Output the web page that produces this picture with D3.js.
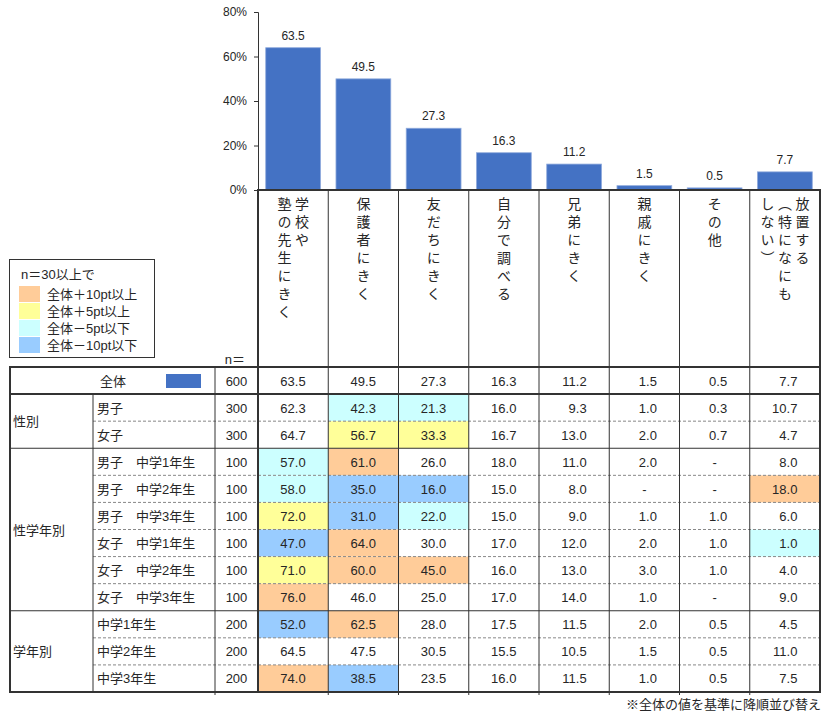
<!DOCTYPE html>
<html>
<head>
<meta charset="utf-8">
<script src="https://cdn.jsdelivr.net/npm/d3@7"></script>
<style>
  body { margin: 0; background: #fff; }
  svg text { font-family: "Liberation Sans", "Noto Sans CJK JP", sans-serif; fill: #262626; }
</style>
</head>
<body>
<svg id="chart" width="827" height="715"></svg>
<script>
// categories (vertical header text, columns read right to left)
var categories = ["学校や塾の先生にきく", "保護者にきく", "友だちにきく", "自分で調べる",
                  "兄弟にきく", "親戚にきく", "その他", "放置する（特になにもしない）"];
var headerLines = [
  ["学校や", "塾の先生にきく"],
  ["保護者にきく"],
  ["友だちにきく"],
  ["自分で調べる"],
  ["兄弟にきく"],
  ["親戚にきく"],
  ["その他"],
  ["放置する", "（特になにも", "しない）"]
];
var totalValues = [63.5, 49.5, 27.3, 16.3, 11.2, 1.5, 0.5, 7.7];
var totalN = 600;

var groupNames = ["性別", "性学年別", "学年別"];
var groupSizes = [2, 6, 3];
var rowLabels = ["男子", "女子",
  "男子　中学1年生", "男子　中学2年生", "男子　中学3年生",
  "女子　中学1年生", "女子　中学2年生", "女子　中学3年生",
  "中学1年生", "中学2年生", "中学3年生"];
var rowN = [300, 300, 100, 100, 100, 100, 100, 100, 200, 200, 200];
var rowValues = [
  [62.3, 42.3, 21.3, 16.0, 9.3, 1.0, 0.3, 10.7],
  [64.7, 56.7, 33.3, 16.7, 13.0, 2.0, 0.7, 4.7],
  [57.0, 61.0, 26.0, 18.0, 11.0, 2.0, null, 8.0],
  [58.0, 35.0, 16.0, 15.0, 8.0, null, null, 18.0],
  [72.0, 31.0, 22.0, 15.0, 9.0, 1.0, 1.0, 6.0],
  [47.0, 64.0, 30.0, 17.0, 12.0, 2.0, 1.0, 1.0],
  [71.0, 60.0, 45.0, 16.0, 13.0, 3.0, 1.0, 4.0],
  [76.0, 46.0, 25.0, 17.0, 14.0, 1.0, null, 9.0],
  [52.0, 62.5, 28.0, 17.5, 11.5, 2.0, 0.5, 4.5],
  [64.5, 47.5, 30.5, 15.5, 10.5, 1.5, 0.5, 11.0],
  [74.0, 38.5, 23.5, 16.0, 11.5, 1.0, 0.5, 7.5]
];
var yTicks = [0, 20, 40, 60, 80];
var legendTitle = "n＝30以上で";
var legendLabels = ["全体＋10pt以上", "全体＋5pt以上", "全体－5pt以下", "全体－10pt以下"];
var legendColors = ["#FFCC99", "#FFFF99", "#CCFFFF", "#99CCFF"];

var svg = d3.select("#chart");
var barColor = "#4472C4";
var lineColor = "#333";

var x = d3.scaleBand().domain(d3.range(categories.length))
  .range([258, 820]).paddingInner(0.22).paddingOuter(0.11);
var step = x.step();
var colLeft = function(i) { return 258 + i * step; };
var colMid = function(i) { return 258 + (i + 0.5) * step; };

var y = d3.scaleLinear().domain([0, 80]).range([190, 12]);

// rows: 0 = 全体, then 11 breakdown rows
var rowY = d3.scaleBand().domain(d3.range(rowLabels.length + 1)).range([367, 692]);
var rh = rowY.bandwidth();

// bars
svg.append("g").selectAll("rect").data(totalValues).join("rect")
  .attr("x", function(d, i) { return x(i); })
  .attr("y", function(d) { return y(d) - 1; })
  .attr("width", x.bandwidth())
  .attr("height", function(d) { return y(0) - y(d) + 1; })
  .attr("fill", barColor)
  .attr("stroke", "#8faadc")
  .attr("stroke-width", 0.8);

svg.append("g").selectAll("text").data(totalValues).join("text")
  .attr("x", function(d, i) { return x(i) + x.bandwidth() / 2; })
  .attr("y", function(d) { return y(d) - 9; })
  .attr("text-anchor", "middle")
  .attr("font-size", 12)
  .text(function(d) { return d.toFixed(1); });

// y axis
var yAxis = svg.append("g").attr("transform", "translate(258,0)")
  .call(d3.axisLeft(y).tickValues(yTicks).tickSize(4).tickPadding(7)
    .tickFormat(function(d) { return d + "%"; }));
yAxis.selectAll("text").attr("font-size", 12).style("fill", "#262626");
yAxis.selectAll("line,path").attr("stroke", lineColor);

// cell colours
function cellColor(v, t) {
  if (v == null) return null;
  var diff = v - t;
  if (diff >= 10) return legendColors[0];
  if (diff >= 5) return legendColors[1];
  if (diff <= -10) return legendColors[3];
  if (diff <= -5) return legendColors[2];
  return null;
}
var cells = [];
rowValues.forEach(function(row, r) {
  row.forEach(function(v, c) {
    cells.push({ r: r + 1, c: c, v: v, fill: cellColor(v, totalValues[c]) });
  });
});
svg.append("g").selectAll("rect").data(cells.filter(function(d) { return d.fill; })).join("rect")
  .attr("x", function(d) { return colLeft(d.c); })
  .attr("y", function(d) { return rowY(d.r); })
  .attr("width", step)
  .attr("height", rh)
  .attr("fill", function(d) { return d.fill; });

// header vertical text
var vt = svg.append("g");
headerLines.forEach(function(lines, i) {
  var n = lines.length;
  lines.forEach(function(line, j) {
    var cx = colMid(i) + ((n - 1) / 2 - j) * 17.5;
    vt.append("text")
      .attr("x", cx).attr("y", 197)
      .style("writing-mode", "vertical-rl")
      .style("font-family", "'Noto Sans CJK JP', sans-serif")
      .style("font-size", "14px")
      .style("letter-spacing", "4px")
      .text(line);
  });
});

svg.append("text").attr("x", 245).attr("y", 364).attr("text-anchor", "end")
  .attr("font-size", 13).text("n＝");

// table lines
var lines = svg.append("g").attr("stroke", lineColor).attr("fill", "none");
function hline(y0, x0, x1, w, dash) {
  var l = lines.append("line").attr("x1", x0).attr("x2", x1).attr("y1", y0).attr("y2", y0)
    .attr("stroke-width", w);
  if (dash) l.attr("stroke", "#888").attr("stroke-dasharray", "3,2");
}
function vline(x0, y0, y1, w) {
  lines.append("line").attr("x1", x0).attr("x2", x0).attr("y1", y0).attr("y2", y1)
    .attr("stroke-width", w);
}
// dashed rows within groups
var start = 1;
groupSizes.forEach(function(s) {
  for (var k = 1; k < s; k++) hline(rowY(start + k), 93, 820, 1, true);
  start += s;
});
start = 1;
groupSizes.forEach(function(s, gi) {
  if (gi > 0) hline(rowY(start), 10, 820, 1);
  start += s;
});
d3.range(1, categories.length).forEach(function(i) { vline(colLeft(i), 190, 695, 1); });
vline(93, rowY(1), 692, 1);
vline(215, 367, 695, 1);
vline(10, 366, 693, 2);
vline(820, 189, 693, 2);
vline(258, 190, 693, 2);
hline(190, 257, 821, 2);
hline(367, 9, 821, 2);
hline(rowY(1), 9, 821, 2);
hline(692, 9, 821, 2);

// 全体 row
var tbl = svg.append("g").attr("font-size", 13);
tbl.append("text").attr("x", 100).attr("y", rowY(0) + rh / 2 + 5).text("全体");
tbl.append("rect").attr("x", 166).attr("y", rowY(0) + 7).attr("width", 35).attr("height", 14)
  .attr("fill", barColor);
tbl.append("text").attr("x", 236.5).attr("y", rowY(0) + rh / 2 + 5)
  .attr("text-anchor", "middle").text(totalN);
totalValues.forEach(function(v, c) {
  cells.push({ r: 0, c: c, v: v });
});

// group labels
start = 1;
groupNames.forEach(function(g, gi) {
  var s = groupSizes[gi];
  var cy = (rowY(start) + rowY(start + s - 1) + rh) / 2;
  tbl.append("text").attr("x", 13).attr("y", cy + 5).text(g);
  start += s;
});

rowLabels.forEach(function(lab, r) {
  var cy = rowY(r + 1) + rh / 2;
  tbl.append("text").attr("x", 97).attr("y", cy + 5).text(lab);
  tbl.append("text").attr("x", 236.5).attr("y", cy + 5).attr("text-anchor", "middle").text(rowN[r]);
});

tbl.selectAll("text.val").data(cells).join("text")
  .attr("class", "val")
  .attr("x", function(d) { return d.v == null ? colMid(d.c) : colMid(d.c) + 12.5; })
  .attr("y", function(d) { return rowY(d.r) + rh / 2 + 5; })
  .attr("text-anchor", function(d) { return d.v == null ? "middle" : "end"; })
  .text(function(d) { return d.v == null ? "-" : d.v.toFixed(1); });

// legend
var lg = svg.append("g").attr("font-size", 13);
lg.append("rect").attr("x", 9.5).attr("y", 259.5).attr("width", 145).attr("height", 98)
  .attr("fill", "#fff").attr("stroke", lineColor);
lg.append("text").attr("x", 21).attr("y", 279).text(legendTitle);
legendLabels.forEach(function(l, i) {
  lg.append("rect").attr("x", 19).attr("y", 286 + i * 17).attr("width", 21).attr("height", 16)
    .attr("fill", legendColors[i]);
  lg.append("text").attr("x", 47).attr("y", 286 + i * 17 + 13).text(l);
});

svg.append("text").attr("x", 821).attr("y", 709).attr("text-anchor", "end")
  .attr("font-size", 13).text("※全体の値を基準に降順並び替え");
</script>
</body>
</html>
